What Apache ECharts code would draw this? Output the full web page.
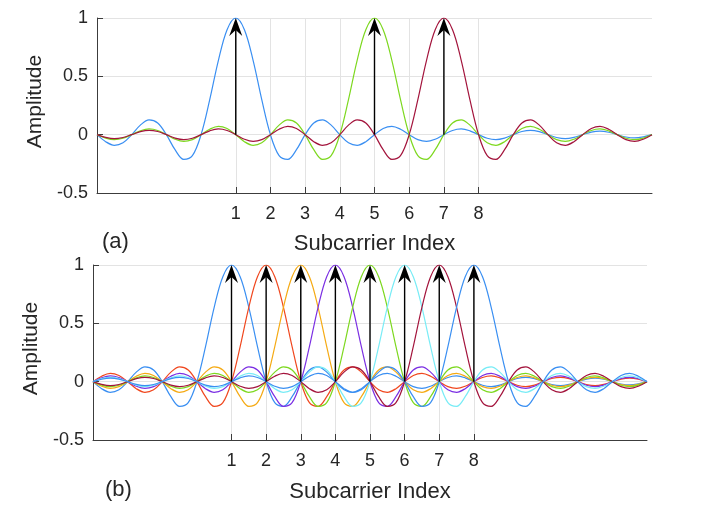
<!DOCTYPE html>
<html>
<head>
<meta charset="utf-8">
<script src="https://cdn.jsdelivr.net/npm/echarts@6/dist/echarts.min.js"></script>
<style>
  html, body { margin: 0; padding: 0; background: #fff; }
  #main { width: 716px; height: 510px; }
</style>
</head>
<body>
<div id="main"></div>
<script>
// pulse shape of one subcarrier, offsets -12 .. 12 in steps of 0.25
var pulseShape = [
  0, -0.019, -0.028, -0.020, 0, 0.021, 0.030, 0.022,
  0, -0.023, -0.034, -0.024, 0, 0.026, 0.037, 0.027,
  0, -0.029, -0.042, -0.031, 0, 0.033, 0.049, 0.036,
  0, -0.039, -0.058, -0.043, 0, 0.047, 0.071, 0.053,
  0, -0.060, -0.091, -0.069, 0, 0.082, 0.127, 0.100,
  0, -0.129, -0.212, -0.180, 0, 0.300, 0.637, 0.900,
  1,
  0.900, 0.637, 0.300, 0, -0.180, -0.212, -0.129, 0,
  0.100, 0.127, 0.082, 0, -0.069, -0.091, -0.060, 0,
  0.053, 0.071, 0.047, 0, -0.043, -0.058, -0.039, 0,
  0.036, 0.049, 0.033, 0, -0.031, -0.042, -0.029, 0,
  0.027, 0.037, 0.026, 0, -0.024, -0.034, -0.023, 0,
  0.022, 0.030, 0.021, 0, -0.020, -0.028, -0.019, 0
];
var pulseStart = -12, pulseStep = 0.25;

var topCenters = [1, 5, 7];
var bottomCenters = [1, 2, 3, 4, 5, 6, 7, 8];
var tickValues = [1, 2, 3, 4, 5, 6, 7, 8];
var yTicks = [-0.5, 0, 0.5, 1];
var xMin = -3, xMax = 13;

var colors = {
  1: '#3a8ff2', 2: '#f0471e', 3: '#f5aa14', 4: '#7b2fe3',
  5: '#7dd81f', 6: '#78ecf6', 7: '#a3143c', 8: '#3a8ff2'
};

var textColor = '#262626';
var gridColor = '#e3e3e3';
var axisColor = '#3c3c3c';

function pulseData(c) {
  var out = [];
  pulseShape.forEach(function(v, i) {
    var x = c + pulseStart + i * pulseStep;
    if (x >= xMin && x <= xMax) out.push([x, v]);
  });
  return out;
}

function makeX(idx) {
  return {
    gridIndex: idx, type: 'value', min: xMin, max: xMax, interval: 1,
    name: 'Subcarrier Index', nameLocation: 'middle', nameGap: idx === 0 ? 40 : 41,
    nameTextStyle: { color: textColor, fontSize: 22, fontFamily: 'Liberation Sans' },
    axisLine: { show: true, onZero: false, lineStyle: { color: axisColor, width: 1 } },
    axisTick: { show: true, inside: true, length: 6, customValues: tickValues, lineStyle: { color: axisColor } },
    axisLabel: { customValues: tickValues, margin: 12, color: textColor, fontSize: 18, fontFamily: 'Liberation Sans' },
    splitLine: { show: true, lineStyle: { color: gridColor, width: 1 } }
  };
}

function makeY(idx) {
  return {
    gridIndex: idx, type: 'value', min: -0.5, max: 1, interval: 0.5,
    name: 'Amplitude', nameLocation: 'middle', nameGap: idx === 0 ? 40 : 39,
    nameTextStyle: { color: textColor, fontSize: 21, fontFamily: 'Liberation Sans', padding: [0, 0, 0, 8] },
    axisLine: { show: true, onZero: false, lineStyle: { color: axisColor, width: 1 } },
    axisTick: { show: true, inside: true, length: 6, customValues: yTicks, lineStyle: { color: axisColor } },
    axisLabel: { customValues: yTicks, margin: 9, color: textColor, fontSize: 18, fontFamily: 'Liberation Sans' },
    splitLine: { show: true, lineStyle: { color: gridColor, width: 1 } }
  };
}

function arrowSeries(idx, centers) {
  return {
    type: 'custom', xAxisIndex: idx, yAxisIndex: idx, z: 10,
    data: centers.map(function(c) { return [c, 1]; }),
    renderItem: function(params, api) {
      var p0 = api.coord([api.value(0), 0]);
      var p1 = api.coord([api.value(0), api.value(1)]);
      var x = p1[0], y = p1[1];
      return {
        type: 'group',
        children: [
          { type: 'line', shape: { x1: p0[0], y1: p0[1], x2: x, y2: y + 10 },
            style: { stroke: '#000', lineWidth: 1.4 } },
          { type: 'polygon', shape: { points: [[x, y], [x + 6.5, y + 18], [x, y + 12], [x - 6.5, y + 18]] },
            style: { fill: '#000' } }
        ]
      };
    }
  };
}

var series = [];
topCenters.forEach(function(c) {
  series.push({
    type: 'line', xAxisIndex: 0, yAxisIndex: 0, data: pulseData(c),
    showSymbol: false, smooth: 0.35, lineStyle: { color: colors[c], width: 1.2 }
  });
});
bottomCenters.forEach(function(c) {
  series.push({
    type: 'line', xAxisIndex: 1, yAxisIndex: 1, data: pulseData(c),
    showSymbol: false, smooth: 0.35, lineStyle: { color: colors[c], width: 1.2 }
  });
});
series.push(arrowSeries(0, topCenters));
series.push(arrowSeries(1, bottomCenters));

var chart = echarts.init(document.getElementById('main'));
chart.setOption({
  animation: false,
  backgroundColor: '#fff',
  grid: [
    { left: 97, top: 18, width: 555, height: 175 },
    { left: 93, top: 265, width: 554, height: 175 }
  ],
  xAxis: [makeX(0), makeX(1)],
  yAxis: [makeY(0), makeY(1)],
  graphic: [
    { type: 'text', left: 102, top: 231, style: { text: '(a)', fill: textColor, fontSize: 22, fontFamily: 'Liberation Sans' } },
    { type: 'text', left: 105, top: 479, style: { text: '(b)', fill: textColor, fontSize: 22, fontFamily: 'Liberation Sans' } }
  ],
  series: series
});
</script>
</body>
</html>
